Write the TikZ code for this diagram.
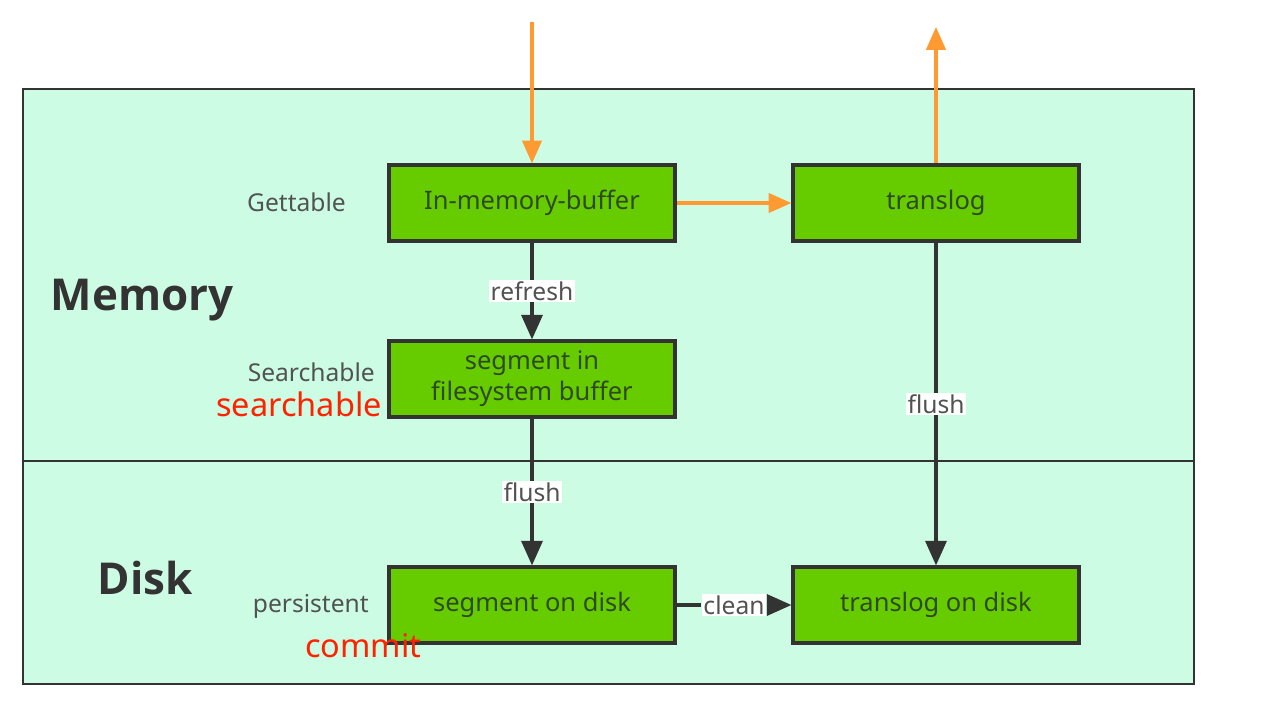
\documentclass[tikz,border=0pt]{standalone}
\usepackage{fontspec}
\setmainfont{Noto Sans}
\newfontfamily\headfont{Open Sans}
\usetikzlibrary{arrows.meta}
\definecolor{mint}{HTML}{CCFCE4}
\definecolor{leaf}{HTML}{66CC00}
\definecolor{frame}{HTML}{333333}
\definecolor{flow}{HTML}{FF9A33}
\definecolor{note}{HTML}{FF2200}
\definecolor{boxtext}{HTML}{2E4A1C}
\tikzset{
  stage/.style={draw=frame, fill=leaf, line width=1.8pt, minimum width=5.72cm,
    minimum height=1.52cm, text=boxtext, align=center, font=\fontsize{14.5}{17}\selectfont},
  tag/.style={text=frame!85, font=\fontsize{14}{16}\selectfont},
  hint/.style={text=note, font=\fontsize{18.5}{21}\selectfont},
  head/.style={text=frame, font=\headfont\bfseries\fontsize{25}{28}\selectfont},
  edgelabel/.style={fill=white, inner sep=1pt, text=frame!85, font=\fontsize{14}{16}\selectfont},
  blackflow/.style={draw=frame, line width=1.8pt, -{Triangle[length=14pt,width=12pt]}},
  orangeflow/.style={draw=flow, line width=1.8pt, -{Triangle[length=13pt,width=11pt]}}
}
\begin{document}
\begin{tikzpicture}[x=0.02cm, y=-0.02cm]
  \useasboundingbox (0,0) rectangle (1278,710);
  % two areas
  \draw[frame, line width=1.6pt, fill=mint] (23,89) rectangle (1194,684);
  \draw[frame, line width=1.6pt] (23,461) -- (1194,461);
  \node[head] (memory) at (142,300) {Memory};
  \node[head] (disk) at (145,578) {Disk};

  % boxes
  \node[stage] (buffer) at (532,203) {In-memory-buffer};
  \node[stage] (translog) at (936,203) {translog};
  \node[stage, font=\fontsize{14.5}{17.5}\selectfont] (fsbuffer) at (532,379) {segment in\\filesystem buffer};
  \node[stage] (segdisk) at (532,605) {segment on disk};
  \node[stage] (logdisk) at (936,605) {translog on disk};

  % side tags
  \node[tag, anchor=east] (gettable) at (352,202) {Gettable};
  \node[tag, anchor=east] (searchable) at (381,372) {Searchable};
  \node[hint, anchor=east] (searchred) at (388,404) {searchable};
  \node[tag, anchor=east] (persistent) at (375,606) {persistent};
  \node[hint, anchor=west] (commit) at (299,646) {commit};

  % request in and out
  \coordinate (in) at (532,22);
  \coordinate (out) at (936,27);
  \draw[orangeflow] (in) -- (buffer.north);
  \draw[orangeflow] (buffer.east) -- (translog.west);
  \draw[orangeflow] (translog.north) -- (out);

  % refresh, flush, clean
  \draw[blackflow] (buffer) -- node[edgelabel] {refresh} (fsbuffer);
  \draw[blackflow] (fsbuffer) -- node[edgelabel] {flush} (segdisk);
  \draw[blackflow] (translog) -- node[edgelabel] {flush} (logdisk);
  \path (segdisk) -- node[edgelabel] (cleantag) {clean} (logdisk);
  \draw[frame, line width=1.8pt] (segdisk) -- (cleantag);
  \draw[blackflow] (cleantag.east) -- (logdisk);
\end{tikzpicture}
\end{document}
